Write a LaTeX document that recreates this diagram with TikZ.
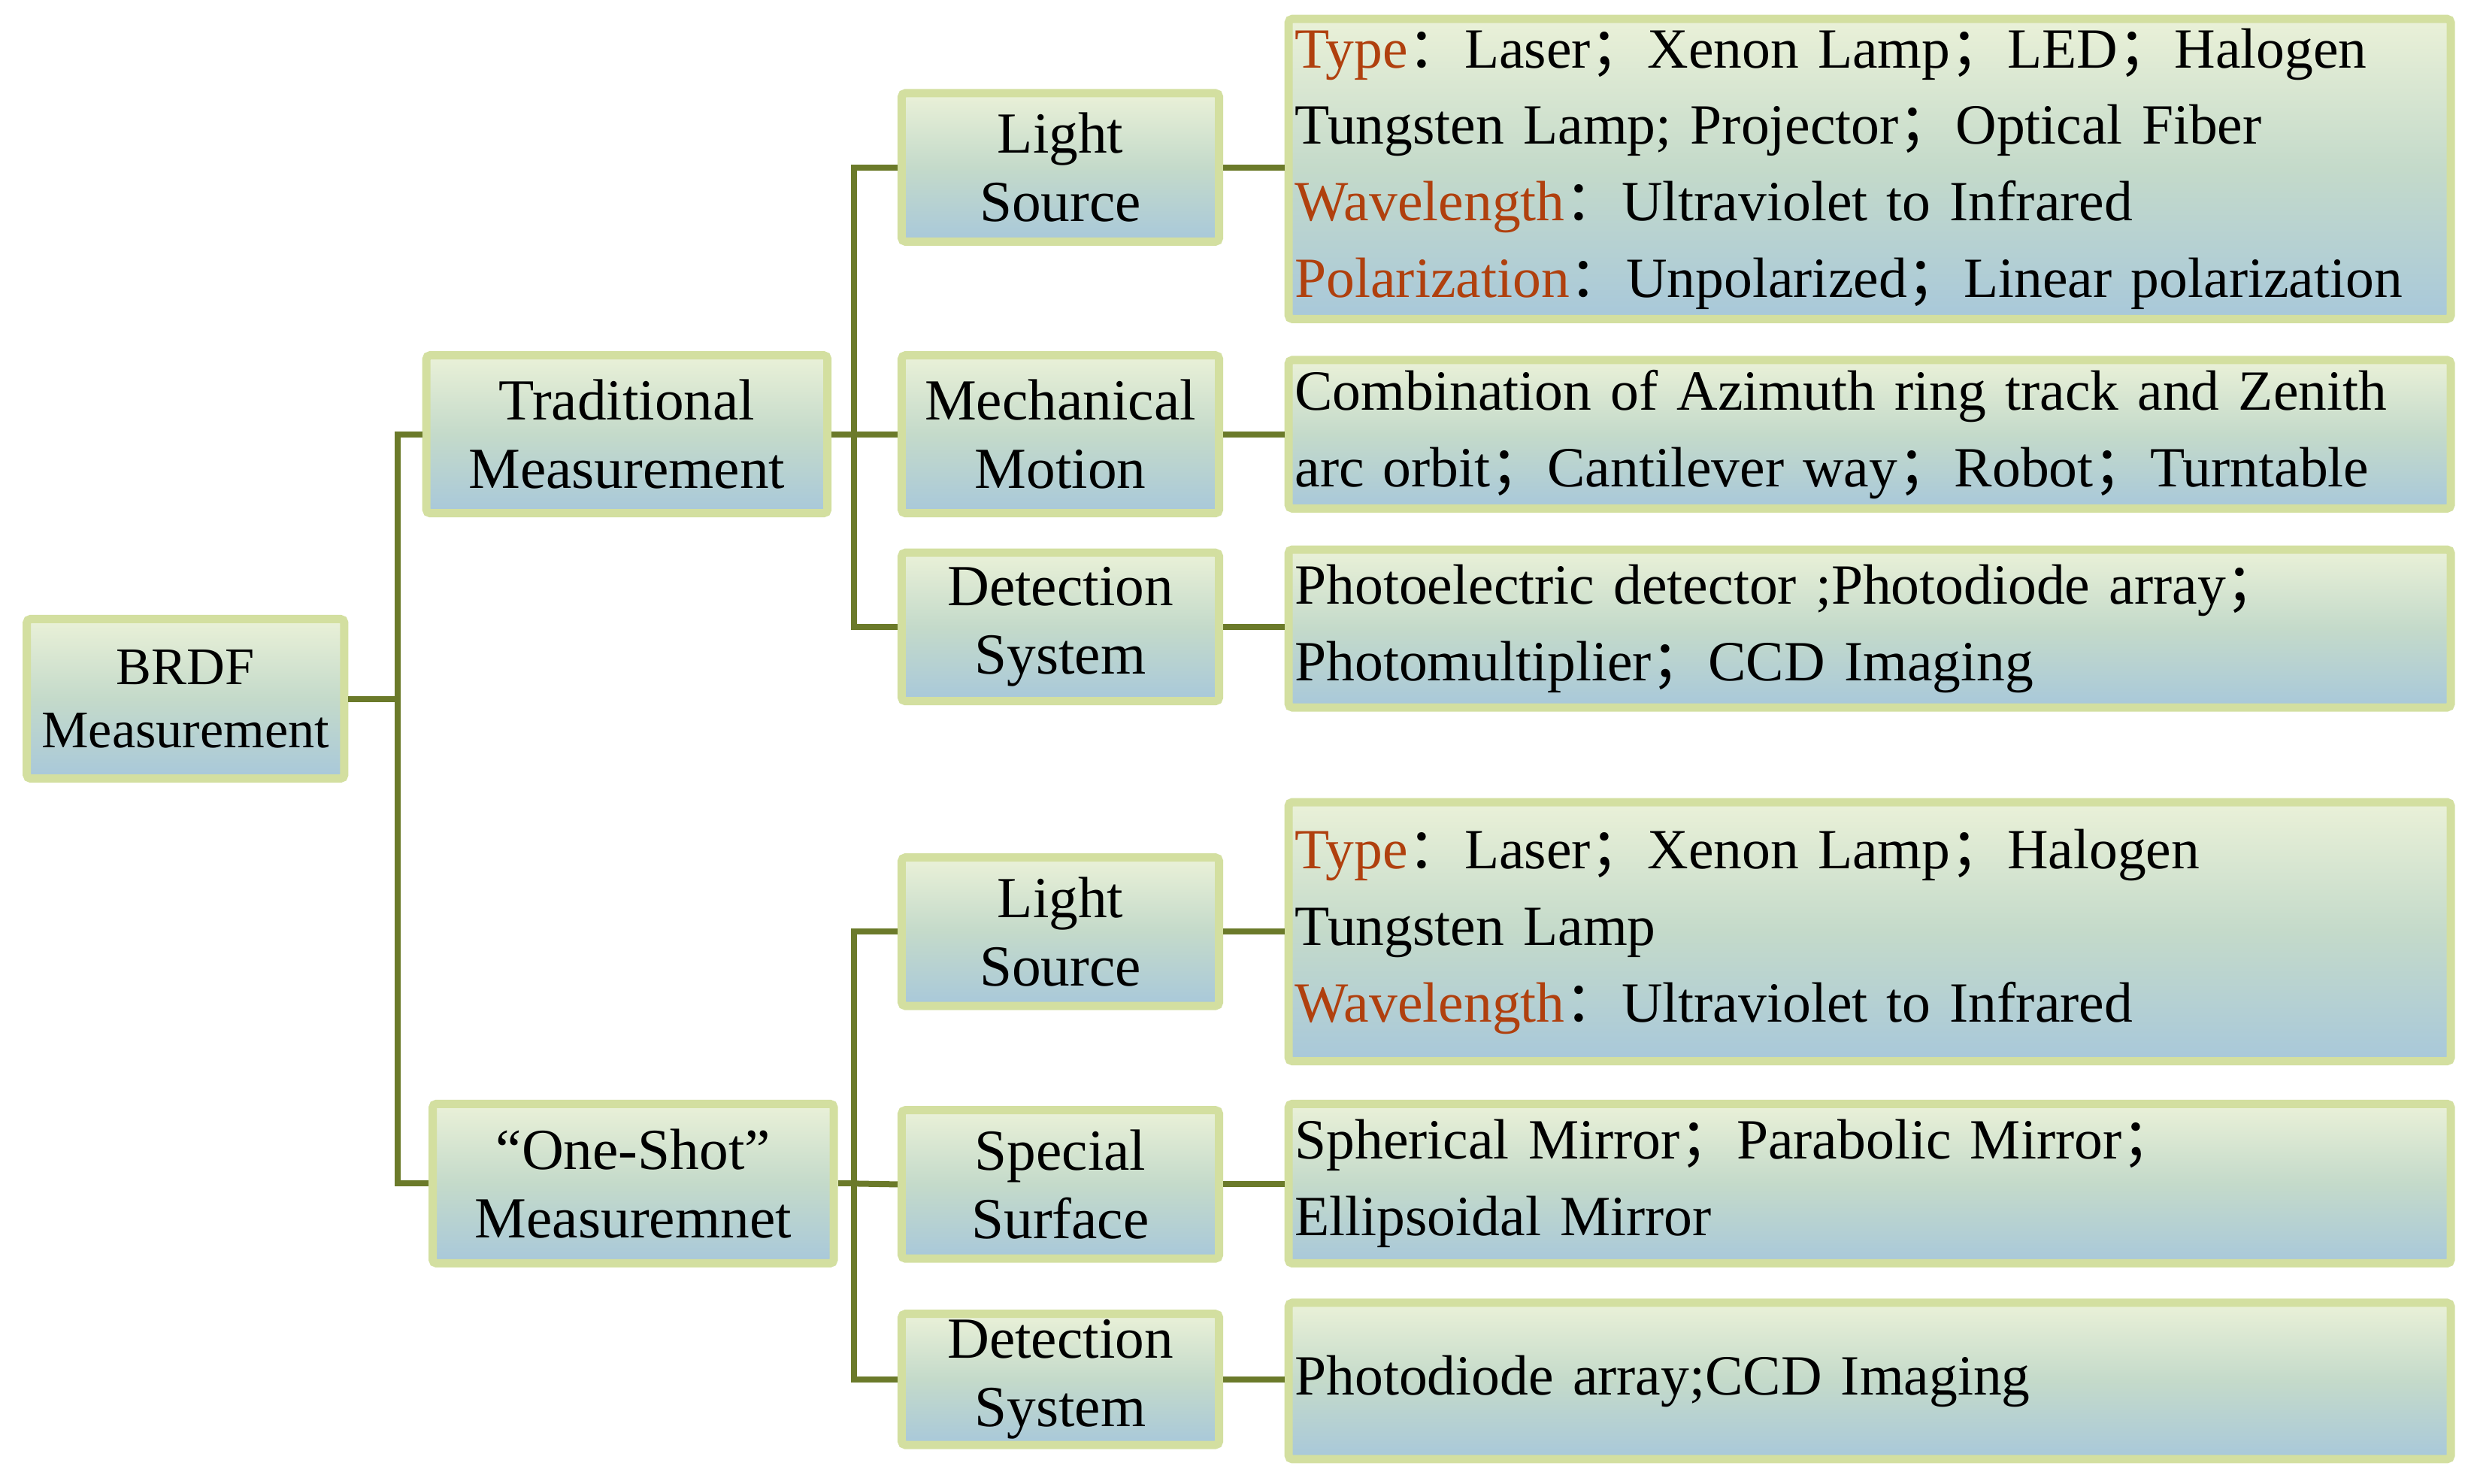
\documentclass[tikz,border=0pt]{standalone}
\usepackage{fontspec}
\setmainfont{Liberation Serif}
\newfontfamily\cjk{Noto Sans CJK SC}
\newcommand\zcolon{{\cjk ：}}
\newcommand\zsemi{{\cjk ；}}
\definecolor{bord}{HTML}{D3DFA0}
\definecolor{lnk}{HTML}{6B7A2A}
\definecolor{org}{HTML}{B0400E}
\definecolor{gtop}{HTML}{EAF1D8}
\definecolor{gmid}{HTML}{C4DACA}
\definecolor{gbot}{HTML}{A8C8DA}
\newcommand\kw[1]{\textcolor{org}{#1}}
\begin{document}
\begin{tikzpicture}[x=0.21mm,y=-0.21mm,
  box/.style={draw=bord,line width=1.1mm,top color=gtop,bottom color=gbot,middle color=gmid,
    rounded corners=0.5mm,inner sep=0pt,align=center},
  mid/.style={box,minimum width=201*0.21mm,font=\fontsize{22}{26}\selectfont},
  det/.style={box,minimum width=736*0.21mm,text width=728*0.21mm,align=left,
    font=\fontsize{21.5}{29}\selectfont},
  lk/.style={draw=lnk,line width=0.8mm}]
\useasboundingbox (0,0) rectangle (1561,939.5);
\node[box,minimum width=201*0.21mm,minimum height=101*0.21mm,font=\fontsize{20}{24}\selectfont] (brdf) at (117.5,442.5) {BRDF\\Measurement};
\node[mid,minimum width=254*0.21mm,minimum height=100*0.21mm] (trad) at (397,275) {Traditional\\Measurement};
\node[mid,minimum width=254*0.21mm,minimum height=101*0.21mm] (one) at (401,749.5) {“One-Shot”\\Measuremnet};
\node[mid,minimum height=94*0.21mm] (ls1) at (671.5,106) {Light\\Source};
\node[mid,minimum height=100*0.21mm] (mm) at (671.5,275) {Mechanical\\Motion};
\node[mid,minimum height=94*0.21mm] (ds1) at (671.5,397) {Detection\\System};
\node[mid,minimum height=94*0.21mm] (ls2) at (671.5,590) {Light\\Source};
\node[mid,minimum height=94*0.21mm] (ss) at (671.5,750) {Special\\Surface};
\node[mid,minimum height=83*0.21mm] (ds2) at (671.5,873.5) {Detection\\System};
\node[det,minimum height=190*0.21mm] (r1) at (1184,107) {\kw{Type}\zcolon Laser\zsemi Xenon Lamp\zsemi LED\zsemi Halogen\\Tungsten Lamp; Projector\zsemi Optical Fiber\\\kw{Wavelength}\zcolon Ultraviolet to Infrared\\\kw{Polarization}\zcolon Unpolarized\zsemi Linear polarization};
\node[det,minimum height=94*0.21mm] (r2) at (1184,275) {Combination of Azimuth ring track and Zenith\\arc orbit\zsemi Cantilever way\zsemi Robot\zsemi Turntable};
\node[det,minimum height=100*0.21mm] (r3) at (1184,398) {Photoelectric detector ;Photodiode array\zsemi\\Photomultiplier\zsemi CCD Imaging};
\node[det,minimum height=164*0.21mm] (r4) at (1184,590) {\kw{Type}\zcolon Laser\zsemi Xenon Lamp\zsemi Halogen\\Tungsten Lamp\\\kw{Wavelength}\zcolon Ultraviolet to Infrared};
\node[det,minimum height=101*0.21mm] (r5) at (1184,749.5) {Spherical Mirror\zsemi Parabolic Mirror\zsemi\\Ellipsoidal Mirror};
\node[det,minimum height=99*0.21mm] (r6) at (1184,874.5) {Photodiode array;CCD Imaging};
\coordinate (j0) at (252,442.5);
\coordinate (j1) at (541,275);
\coordinate (j2) at (541,749.5);
\draw[lk] (brdf.east) -- (j0);
\draw[lk] (trad.west) -| (j0) |- (one.west);
\draw[lk] (trad.east) -- (j1);
\draw[lk] (ls1.west) -| (j1) |- (ds1.west);
\draw[lk] (j1) -- (mm.west);
\draw[lk] (one.east) -- (j2);
\draw[lk] (ls2.west) -| (j2) |- (ds2.west);
\draw[lk] (j2) -- (ss.west);
\foreach \a/\b in {ls1/r1,mm/r2,ds1/r3,ls2/r4,ss/r5,ds2/r6}
  \draw[lk] (\a.east) -- (\b.west|-\a.east);
\end{tikzpicture}
\end{document}
